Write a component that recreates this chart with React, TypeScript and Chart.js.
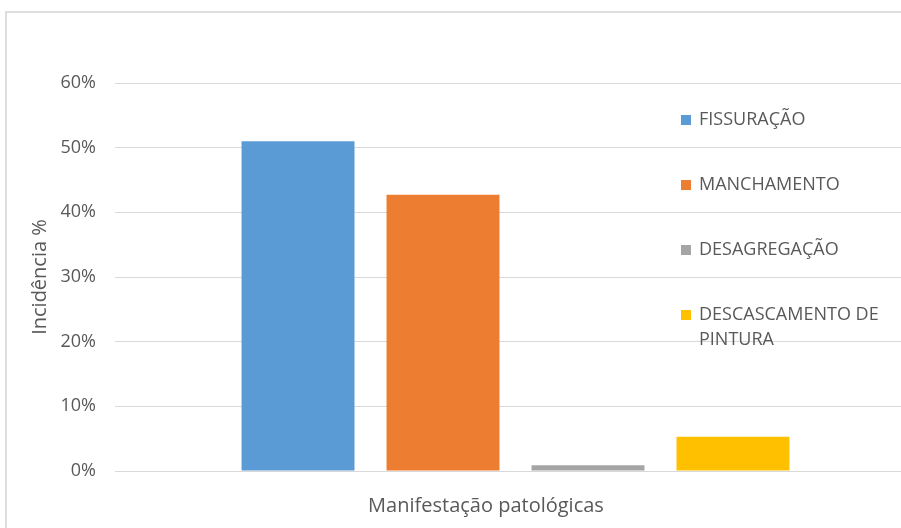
import { useEffect, useRef } from 'react';
import { Chart, registerables } from 'chart.js';

Chart.register(...registerables);

const categories = [''];
const seriesLabels = ['FISSURAÇÃO', 'MANCHAMENTO', 'DESAGREGAÇÃO', 'DESCASCAMENTO DE PINTURA'];
const fissuracao = [51.0];
const manchamento = [42.7];
const desagregacao = [0.9];
const descascamento = [5.3];
const seriesColors = ['#5B9BD5', '#ED7D31', '#A5A5A5', '#FFC000'];
const yMax = 60;
const yStep = 10;
const xTitle = 'Manifestação patológicas';
const yTitle = 'Incidência %';

const FONT = '"Open Sans", "Noto Sans", sans-serif';
const TEXT = '#595959';

const overlayLegend = {
  id: 'overlayLegend',
  afterLayout(chart: any) {
    const t = chart.titleBlock;
    if (t) {
      t.left = 0;
      t.right = chart.width;
      t.width = chart.width;
    }
  },
  afterDraw(chart: any) {
    const { ctx, chartArea } = chart;
    ctx.save();
    ctx.font = `18px ${FONT}`;
    ctx.textBaseline = 'middle';
    ctx.textAlign = 'left';
    const x0 = chartArea.right - 235;
    const maxW = 190;
    chart.data.datasets.forEach((ds: any, i: number) => {
      const yc = chartArea.top + 37 + i * 65;
      ctx.fillStyle = ds.backgroundColor;
      ctx.fillRect(x0, yc - 5, 10, 10);
      const words = String(ds.label).split(' ');
      const lines: string[] = [];
      let cur = '';
      words.forEach((w) => {
        const t = cur ? cur + ' ' + w : w;
        if (cur && ctx.measureText(t).width > maxW) {
          lines.push(cur);
          cur = w;
        } else {
          cur = t;
        }
      });
      if (cur) lines.push(cur);
      ctx.fillStyle = TEXT;
      lines.forEach((ln, j) => ctx.fillText(ln, x0 + 18, yc + j * 24.5));
    });
    ctx.restore();
  },
};

export default function App() {
  const ref = useRef<HTMLCanvasElement | null>(null);

  useEffect(() => {
    if (!ref.current) return;
    const series = [fissuracao, manchamento, desagregacao, descascamento];
    const chart = new Chart(ref.current, {
      type: 'bar',
      data: {
        labels: categories,
        datasets: series.map((d, i) => ({
          label: seriesLabels[i],
          data: d,
          backgroundColor: seriesColors[i],
          borderWidth: 0,
          barPercentage: 0.779,
          categoryPercentage: 0.724,
        })),
      },
      options: {
        responsive: false,
        animation: false,
        layout: { padding: { left: 0, right: 50, top: 71, bottom: 0 } },
        plugins: {
          legend: { display: false },
          tooltip: { enabled: false },
          title: {
            display: true,
            text: xTitle,
            position: 'bottom',
            color: TEXT,
            font: { family: FONT, size: 20, weight: 'normal', lineHeight: 1.2 },
            padding: { top: 23, bottom: 24 },
          },
        },
        scales: {
          x: { display: false },
          y: {
            min: 0,
            max: yMax,
            afterFit: (s: any) => {
              s.width = 109;
            },
            ticks: {
              stepSize: yStep,
              padding: 19,
              color: TEXT,
              font: { family: FONT, size: 18 },
              callback: (v: any) => `${v}%`,
            },
            grid: { color: '#d9d9d9', lineWidth: 1, drawTicks: false },
            border: { display: false },
            title: {
              display: true,
              text: yTitle,
              color: TEXT,
              font: { family: FONT, size: 20, lineHeight: 1.2 },
              padding: { top: 22, bottom: 0 },
            },
          },
        },
      },
      plugins: [overlayLegend],
    } as any);
    return () => chart.destroy();
  }, []);

  return (
    <div
      style={{
        position: 'absolute',
        left: 0,
        top: 0,
        width: 901,
        height: 528,
        overflow: 'hidden',
        background: '#ffffff',
      }}
    >
      <div
        style={{
          position: 'absolute',
          left: 5,
          top: 11,
          width: 1000,
          height: 1000,
          borderTop: '2px solid #dedede',
          borderLeft: '2px solid #dedede',
        }}
      />
      <canvas
        ref={ref}
        width={960}
        height={530}
        style={{ position: 'absolute', left: 6, top: 12, width: 960, height: 530 }}
      />
    </div>
  );
}
